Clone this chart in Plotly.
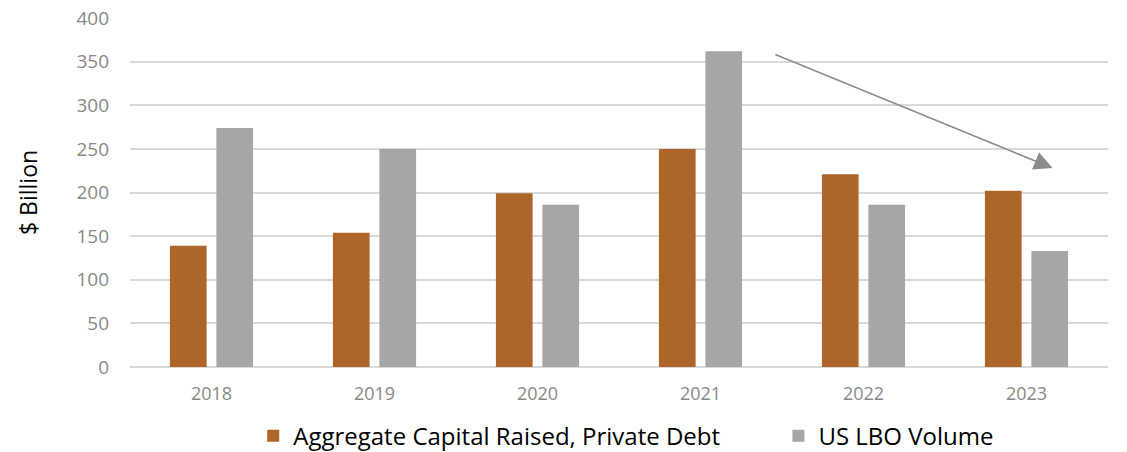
import plotly.graph_objects as go

years = ["2018", "2019", "2020", "2021", "2022", "2023"]
private_debt = [139, 154, 199, 250, 221, 202]
lbo_volume = [274, 250, 186, 362, 186, 133]

series_names = ["Aggregate Capital Raised, Private Debt", "US LBO Volume"]
series_colors = ["#AE652A", "#A6A6A8"]
legend_ids = ["legend", "legend2"]

# trend arrow: tail near the 2021 peak, head past 2023 (category index / value)
arrow_tail = (3.45, 359)
arrow_head = (5.16, 228)

fig = go.Figure()
for name, vals, color, lg in zip(series_names, [private_debt, lbo_volume], series_colors, legend_ids):
    fig.add_trace(go.Bar(x=years, y=vals, name=name, legend=lg,
                         marker=dict(color=color, line=dict(width=0))))

fig.add_annotation(
    x=arrow_head[0], y=arrow_head[1], ax=arrow_tail[0], ay=arrow_tail[1],
    xref="x", yref="y", axref="x", ayref="y",
    showarrow=True, arrowhead=2, arrowsize=2.3, arrowwidth=1.6,
    arrowcolor="#8C8C8F", text="",
)

legend_font = dict(size=24, color="#000000", family="Open Sans")

fig.update_layout(
    width=1127, height=452,
    margin=dict(l=130, r=19, t=18, b=85, autoexpand=False),
    paper_bgcolor="white", plot_bgcolor="white",
    barmode="group", bargap=0.43, bargroupgap=0.21,
    font=dict(family="Open Sans", color="#000000"),
    showlegend=True,
    legend=dict(orientation="h", x=0.126, xanchor="left", y=-0.198, yanchor="middle",
                font=legend_font, itemwidth=30),
    legend2=dict(orientation="h", x=0.663, xanchor="left", y=-0.198, yanchor="middle",
                 font=legend_font, itemwidth=30),
    yaxis=dict(
        range=[0, 400], dtick=50, showgrid=True, gridcolor="#D9D9D9", gridwidth=1.5,
        zeroline=True, zerolinecolor="#D9D9D9", zerolinewidth=1.5, automargin=False,
        tickfont=dict(size=19, color="#888888"), ticks="", ticklabelstandoff=20,
        title=dict(text="$ Billion", font=dict(size=23, color="#000000"), standoff=32),
    ),
    xaxis=dict(
        type="category", showgrid=False, showline=False, automargin=False,
        tickfont=dict(size=18, color="#888888"), ticks="", ticklabelstandoff=14,
    ),
)

fig.write_html("out.html")
